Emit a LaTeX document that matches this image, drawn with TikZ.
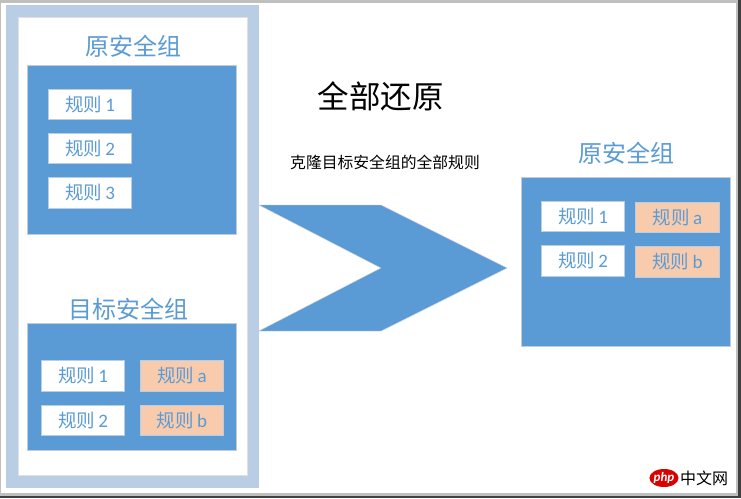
\documentclass[tikz,border=0pt]{standalone}
\usepackage{fontspec}
\setmainfont{Carlito}
\newfontfamily\cjk{Noto Sans CJK SC}
\usetikzlibrary{calc,shapes.geometric}
\definecolor{blueA}{HTML}{5B9BD5}
\definecolor{blueL}{HTML}{B9CDE5}
\definecolor{peach}{HTML}{F8CBAD}
\definecolor{edgeG}{HTML}{C4CCD6}
\tikzset{
  x=1pt,y=-1pt,
  panel/.style={fill=blueA,draw=edgeG,line width=.8pt},
  rulebox/.style={anchor=center,minimum width=83.5pt,minimum height=30.5pt,inner sep=0pt,fill=white,draw=blueL,line width=.7pt,text=blueA,font=\fontsize{19}{19}\selectfont},
  rulepeach/.style={rulebox,fill=peach},
  heading/.style={anchor=center,text=blueA,inner sep=0pt,font=\cjk\fontsize{24}{24}\selectfont},
}
\newcommand{\gui}[1]{{\cjk\fontsize{18.5}{19}\selectfont 规则}\,#1}
\begin{document}
\begin{tikzpicture}
\useasboundingbox (0,0) rectangle (741,498);
% screenshot frame
\fill[white] (0,0) rectangle (741,498);
\fill[black!75] (738,0) rectangle (741,498);
\fill[black!75] (0,495.5) rectangle (741,498);
\fill[black!25] (0,0) rectangle (738,3);
\fill[black!25] (736,0) rectangle (738,495.5);
\fill[black!25] (0,493) rectangle (738,495.5);
\fill[black!25] (0,0) rectangle (1,495.5);
% left container
\fill[blueL] (6,5) rectangle (259,488);
\fill[white,draw=black!12,line width=.6pt] (18,17) rectangle (247,475);
% panels
\draw[panel] (27.8,65.5) rectangle (236.8,234);
\draw[panel] (27.8,323) rectangle (236.8,450);
\draw[panel] (521,177) rectangle (730,346);
% chevron
\fill[blueA,draw=edgeG,line width=.4pt] (259,205) -- (381,205) -- (507,268) -- (381,331) -- (259,331) -- (381,268) -- cycle;
% headings
\node[heading] (h1) at (133,46) {原安全组};
\node[heading] (h2) at (128.5,309.5) {目标安全组};
\node[heading] (h3) at (626,153) {原安全组};
\node[anchor=center,inner sep=0pt,font=\cjk\fontsize{31.5}{32}\selectfont] (t1) at (380.5,96.5) {全部还原};
\node[anchor=center,inner sep=0pt,font=\cjk\fontsize{15.8}{16}\selectfont] (t2) at (385,162) {克隆目标安全组的全部规则};
% rules
\node[rulebox] (a1) at (90,104.5) {\gui{1}};
\node[rulebox] (a2) at (90,148.5) {\gui{2}};
\node[rulebox] (a3) at (90,193) {\gui{3}};
\node[rulebox] (b1) at (83,375.7) {\gui{1}};
\node[rulebox] (b2) at (83,420.2) {\gui{2}};
\node[rulepeach] (b3) at (182,375.7) {\gui{a}};
\node[rulepeach] (b4) at (182,420.2) {\gui{b}};
\node[rulebox] (c1) at (583,216.3) {\gui{1}};
\node[rulebox] (c2) at (583,260.8) {\gui{2}};
\node[rulepeach] (c3) at (677.5,217.5) {\gui{a}};
\node[rulepeach] (c4) at (677.5,262) {\gui{b}};
% watermark
\node[ellipse,fill=red!85!black,minimum width=29pt,minimum height=18pt,inner sep=0pt,text=white,font=\itshape\bfseries\fontsize{13}{13}\selectfont] (wm) at (664,478) {php};
\node[anchor=west,inner sep=0pt,font=\cjk\fontsize{16}{16}\selectfont] (wmt) at (680,478) {中文网};
\end{tikzpicture}
\end{document}
